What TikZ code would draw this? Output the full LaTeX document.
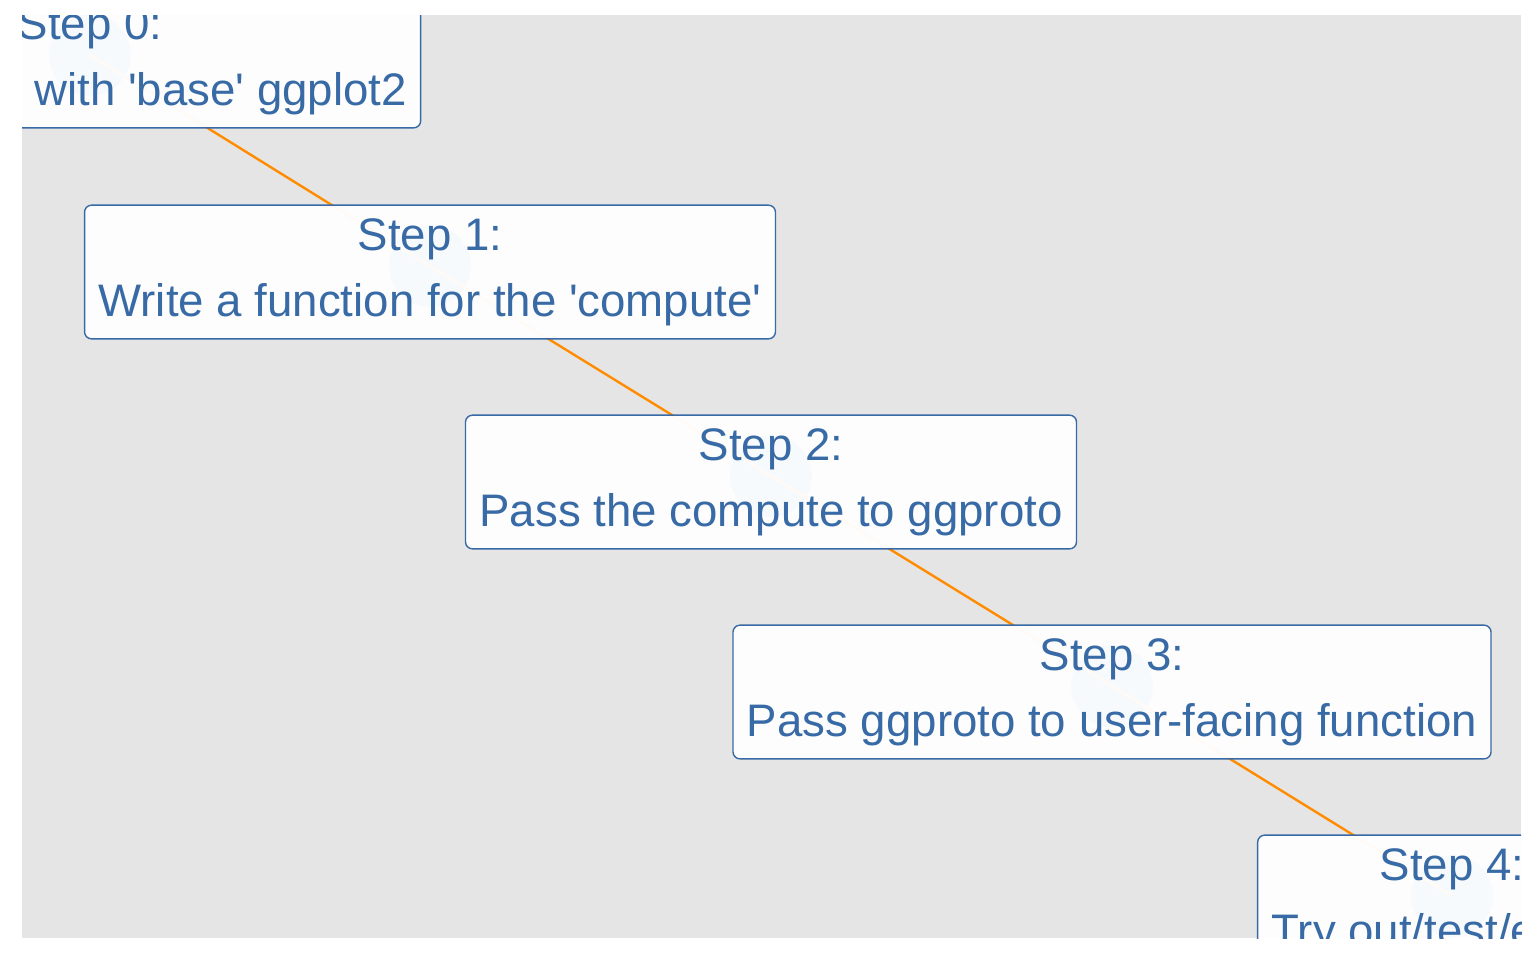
\documentclass[tikz,border=0pt]{standalone}
\usepackage{fontspec}
\setmainfont{Liberation Sans}
\usepackage{tikz}
\definecolor{steptext}{RGB}{56,106,166}
\definecolor{panelgray}{RGB}{229,229,229}
\definecolor{pathorange}{RGB}{255,140,0}
\definecolor{pointblue}{RGB}{70,130,180}
\tikzset{step label/.style={fill=white,fill opacity=0.96,text opacity=1,draw=steptext,draw opacity=1,text=steptext,rounded corners=3.5pt,line width=0.7pt,inner xsep=7pt,inner ysep=6.6pt,align=center,font=\fontsize{22.8}{33}\selectfont}}
\tikzset{step point/.style={circle,fill=pointblue,minimum size=41pt,inner sep=0}}
\def\q{\textquotesingle}

\begin{document}
\begin{tikzpicture}[x=0.5pt,y=-0.5pt]
          \useasboundingbox (0,0) rectangle (1536,960);
          \fill[white] (0,0) rectangle (1536,960);

          %panel
          \fill[panelgray] (22,15) rectangle (1521,938);

          \begin{scope}
          \clip (22,15) rectangle (1521,938);

          %points
          \node[step point] (p0) at (90,55) {};
          \node[step point] (p1) at (430,266) {};
          \node[step point] (p2) at (771,476) {};
          \node[step point] (p3) at (1112,686) {};
          \node[step point] (p4) at (1452,896) {};

          %p0->p4
          \draw[pathorange, line width=1.2pt] (p0.center) -- (p1.center) -- (p2.center) -- (p3.center) -- (p4.center);

          %labels
          \node[step label, yshift=-3pt] (s0) at (p0) {Step 0:\\Make it right with \q base\q{} ggplot2};
          \node[step label, yshift=-3pt] (s1) at (p1) {Step 1:\\Write a function for the \q compute\q};
          \node[step label, yshift=-3pt] (s2) at (p2) {Step 2:\\Pass the compute to ggproto};
          \node[step label, yshift=-3pt] (s3) at (p3) {Step 3:\\Pass ggproto to user-facing function};
          \node[step label, yshift=-3pt] (s4) at (p4) {Step 4:\\Try out/test/enjoy!};
          \end{scope}

        \end{tikzpicture}
\end{document}
